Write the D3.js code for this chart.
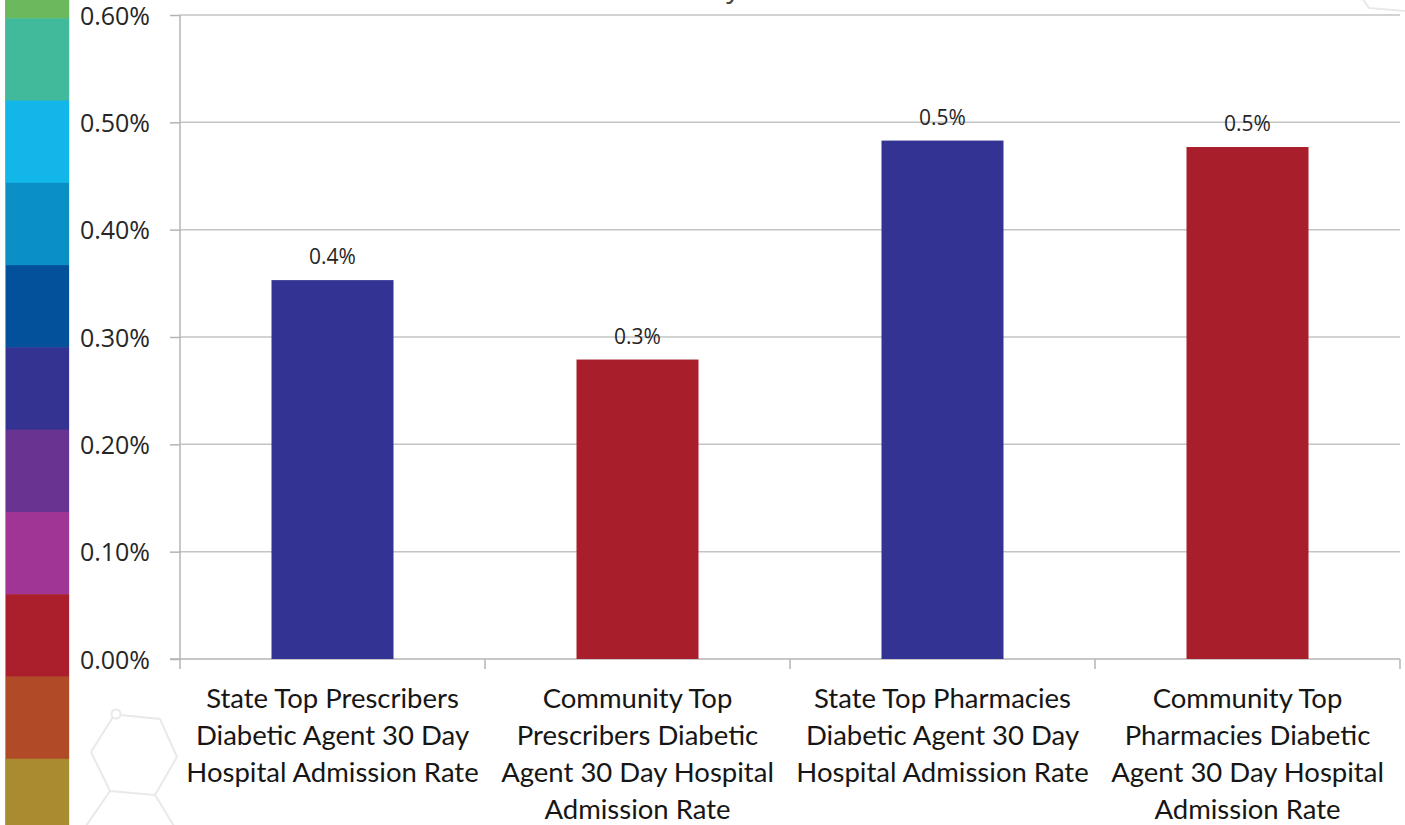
<!DOCTYPE html>
<html>
<head>
<meta charset="utf-8">
<script src="https://cdn.jsdelivr.net/npm/d3@7"></script>
<style>
  html, body { margin: 0; padding: 0; background: #ffffff; overflow: hidden; }
  svg { display: block; }
</style>
</head>
<body>
<svg id="chart" width="1405" height="825"></svg>
<script>
// Chart data
const categories = [
  "State Top Prescribers Diabetic Agent 30 Day Hospital Admission Rate",
  "Community Top Prescribers Diabetic Agent 30 Day Hospital Admission Rate",
  "State Top Pharmacies Diabetic Agent 30 Day Hospital Admission Rate",
  "Community Top Pharmacies Diabetic Agent 30 Day Hospital Admission Rate"
];
const categoryLines = [
  ["State Top Prescribers", "Diabetic Agent 30 Day", "Hospital Admission Rate"],
  ["Community Top", "Prescribers Diabetic", "Agent 30 Day Hospital", "Admission Rate"],
  ["State Top Pharmacies", "Diabetic Agent 30 Day", "Hospital Admission Rate"],
  ["Community Top", "Pharmacies Diabetic", "Agent 30 Day Hospital", "Admission Rate"]
];
const admissionRates = [0.00353, 0.00279, 0.00483, 0.00477];
const barColors = ["#333394", "#a91e2b", "#333394", "#a91e2b"];
const yTicks = [0, 0.001, 0.002, 0.003, 0.004, 0.005, 0.006];
const chartTitle = "30 Day Admission Rate";

// Decorative side ribbon colours (top to bottom)
const ribbonColors = ["#6cb85c", "#41b99b", "#12b6e9", "#0a90c5", "#03519b",
  "#343392", "#683391", "#a13596", "#ab1f2d", "#b14a27", "#a98b30"];

const svg = d3.select("#chart");
const W = 1405, H = 825;
const plot = { left: 180, right: 1400, top: 15, bottom: 659 };

// Side ribbon
const ribbon = d3.scaleBand().domain(d3.range(ribbonColors.length)).range([-64, 841]);
svg.append("g").selectAll("rect").data(ribbonColors).join("rect")
  .attr("x", 6).attr("width", 63)
  .attr("y", (d, i) => ribbon(i)).attr("height", ribbon.bandwidth() + 0.5)
  .attr("fill", d => d);
svg.append("line").attr("x1", 5.5).attr("x2", 5.5).attr("y1", 0).attr("y2", H)
  .attr("stroke", "#9a9a9a").attr("stroke-width", 1);
svg.append("line").attr("x1", 69.5).attr("x2", 69.5).attr("y1", 0).attr("y2", H)
  .attr("stroke", "#e6e6f2").attr("stroke-width", 1);

// Faint molecule outline decorations
const deco = svg.append("g").attr("fill", "none").attr("stroke", "#e9e9e9").attr("stroke-width", 2);
deco.append("path").attr("d", "M120,715 L160,719 L177,757 L155,795 L110,791 L91,752 L113,717");
deco.append("circle").attr("cx", 116).attr("cy", 714).attr("r", 4.5);
deco.append("path").attr("d", "M110,791 L86,826 M155,795 L174,826");
deco.append("path").attr("d", "M1362,-2 L1369,8 L1406,11");

// Title (runs off the top edge)
svg.append("text").attr("x", 800).attr("y", -3).attr("text-anchor", "middle")
  .attr("font-family", "Open Sans").attr("font-size", 28).attr("fill", "#444")
  .text(chartTitle);

// Scales
const x = d3.scaleBand().domain(categories).range([plot.left, plot.right])
  .paddingInner(0.6).paddingOuter(0.3);
const y = d3.scaleLinear().domain([0, 0.006]).range([plot.bottom, plot.top]);

// Gridlines
svg.append("g").selectAll("line").data(yTicks.filter(d => d > 0)).join("line")
  .attr("x1", plot.left).attr("x2", plot.right)
  .attr("y1", d => y(d)).attr("y2", d => y(d))
  .attr("stroke", "#c4c4c4").attr("stroke-width", 1.5);

// Y axis
const yAxis = svg.append("g").attr("transform", `translate(${plot.left},0)`)
  .call(d3.axisLeft(y).tickValues(yTicks).tickFormat(d3.format(".2%")).tickSize(10).tickPadding(20));
yAxis.select(".domain").attr("stroke", "#b4b4b4").attr("stroke-width", 1.5).attr("d", `M0,${plot.top}V${plot.bottom}`);
yAxis.selectAll(".tick line").attr("stroke", "#b4b4b4").attr("stroke-width", 1.5);
yAxis.selectAll(".tick text").attr("font-family", "Open Sans").attr("font-size", 25)
  .attr("fill", "#262626").attr("dy", "0.36em");

// X axis baseline and category dividers
const boundaries = categories.map(c => x(c) - x.step() * x.paddingOuter()).concat([plot.right]);
svg.append("line").attr("x1", plot.left - 10).attr("x2", plot.right)
  .attr("y1", plot.bottom).attr("y2", plot.bottom)
  .attr("stroke", "#b4b4b4").attr("stroke-width", 1.5);
svg.append("g").selectAll("line").data(boundaries).join("line")
  .attr("x1", d => d).attr("x2", d => d)
  .attr("y1", plot.bottom).attr("y2", plot.bottom + 10)
  .attr("stroke", "#b4b4b4").attr("stroke-width", 1.5);

// Bars
svg.append("g").selectAll("rect").data(admissionRates).join("rect")
  .attr("x", (d, i) => x(categories[i]))
  .attr("width", x.bandwidth())
  .attr("y", d => y(d))
  .attr("height", d => y(0) - y(d))
  .attr("fill", (d, i) => barColors[i]);

// Value labels
const fmt = d3.format(".1%");
svg.append("g").selectAll("text").data(admissionRates).join("text")
  .attr("x", (d, i) => x(categories[i]) + x.bandwidth() / 2)
  .attr("y", d => y(d) - 16)
  .attr("text-anchor", "middle")
  .attr("font-family", "Open Sans").attr("font-size", 21).attr("fill", "#262626")
  .text(d => fmt(d));

// Category labels
const catG = svg.append("g");
categoryLines.forEach((lines, i) => {
  const cx = x(categories[i]) + x.bandwidth() / 2;
  const t = catG.append("text")
    .attr("x", cx)
    .attr("y", 708)
    .attr("text-anchor", "middle")
    .attr("font-family", "Lato").attr("font-size", 27.5).attr("fill", "#161616");
  lines.forEach((ln, k) => {
    t.append("tspan").attr("x", cx).attr("y", 708 + k * 37).text(ln);
  });
});
</script>
</body>
</html>
